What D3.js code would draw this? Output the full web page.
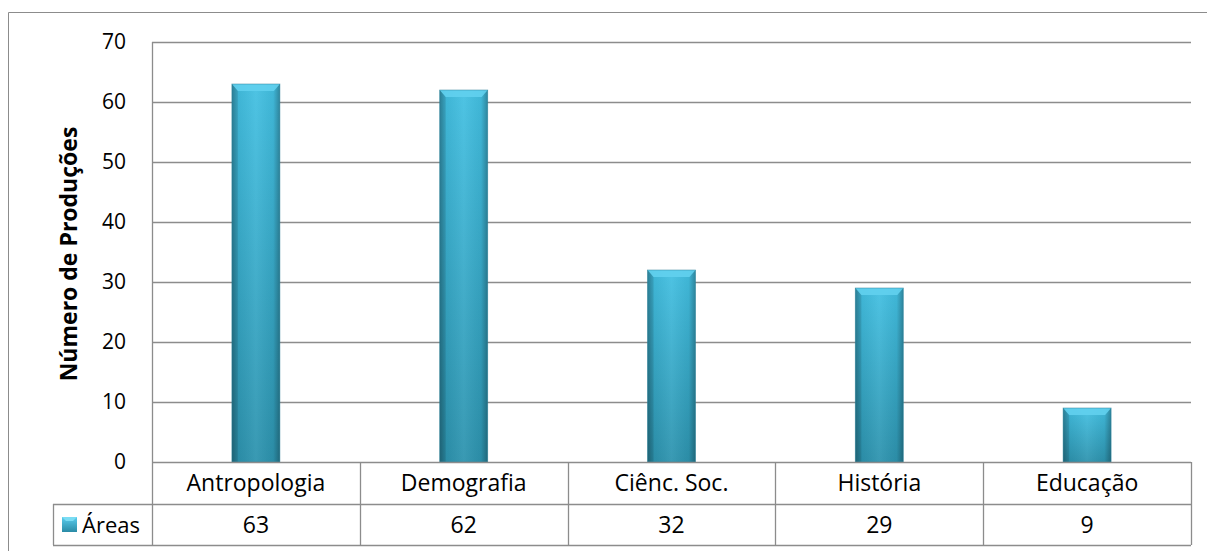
<!DOCTYPE html>
<html><head><meta charset="utf-8">
<script src="https://cdn.jsdelivr.net/npm/d3@7"></script>
<style>body{margin:0;background:#fff}svg{display:block}text{font-family:"Open Sans","Noto Sans",sans-serif;fill:#000}</style>
</head><body><svg id="c" width="1207" height="551"></svg>
<script>
const categories = ["Antropologia","Demografia","Ciênc. Soc.","História","Educação"];
const values = [63,62,32,29,9];
const seriesName = "Áreas";
const yTicks = [0,10,20,30,40,50,60,70];
const yTitle = "Número de Produções";

const svg = d3.select("#c");
const L = 152, R = 1191, T = 42, B = 462;
const row1 = 504, row2 = 545, legL = 53;
const x = d3.scaleBand().domain(categories).range([L, R]).paddingInner(0).paddingOuter(0);
const y = d3.scaleLinear().domain([0,70]).range([B, T]);
const grid = "#8c8c8c";

const defs = svg.append("defs");
const gv = defs.append("linearGradient").attr("id","gv").attr("x1",0).attr("y1",0).attr("x2",0).attr("y2",1);
gv.append("stop").attr("offset","0%").attr("stop-color","#43c0e2");
gv.append("stop").attr("offset","100%").attr("stop-color","#2d93ae");
const gh = defs.append("linearGradient").attr("id","gh").attr("x1",0).attr("y1",0).attr("x2",1).attr("y2",0);
gh.append("stop").attr("offset","0%").attr("stop-color","#000").attr("stop-opacity",0.28);
gh.append("stop").attr("offset","14%").attr("stop-color","#000").attr("stop-opacity",0.05);
gh.append("stop").attr("offset","50%").attr("stop-color","#fff").attr("stop-opacity",0.06);
gh.append("stop").attr("offset","86%").attr("stop-color","#000").attr("stop-opacity",0.05);
gh.append("stop").attr("offset","100%").attr("stop-color","#000").attr("stop-opacity",0.3);

// outer chart border
svg.append("path").attr("d",`M8.5,551 V12.5 H1207`).attr("fill","none").attr("stroke","#8c8c8c").attr("stroke-width",1);

// gridlines
svg.append("g").selectAll("line").data(yTicks.filter(d=>d>0)).join("line")
  .attr("x1",L).attr("x2",R).attr("y1",d=>Math.round(y(d))+0.5).attr("y2",d=>Math.round(y(d))+0.5)
  .attr("stroke",grid).attr("stroke-width",1.3);

// y axis tick labels
const yAxis = d3.axisLeft(y).tickValues(yTicks).tickSize(0).tickPadding(26);
const ga = svg.append("g").attr("transform",`translate(${L},0)`).call(yAxis);
ga.select(".domain").remove();
ga.selectAll("text").attr("font-size",21).attr("font-family","'Open Sans',sans-serif").attr("fill","#000");

// y title
svg.append("text").attr("transform","translate(77,254) rotate(-90)").attr("text-anchor","middle")
  .attr("font-size",23).attr("font-weight","bold").text(yTitle);

// bars
const bw = 48;
const bars = svg.append("g").selectAll("g").data(categories.map((c,i)=>({c,v:values[i]}))).join("g")
  .attr("transform",d=>`translate(${x(d.c)+x.bandwidth()/2-bw/2},${y(d.v)})`);
bars.append("rect").attr("width",bw).attr("height",d=>B-y(d.v)).attr("fill","url(#gv)");
bars.append("rect").attr("width",bw).attr("height",d=>B-y(d.v)).attr("fill","url(#gh)");
bars.append("path").attr("d",`M0,0 H${bw} L${bw-6},7 H6 Z`).attr("fill","#62d0ee").attr("opacity",0.9);
bars.append("path").attr("d",d=>`M0,0 L6,7 V${B-y(d.v)} H0 Z`).attr("fill","#000").attr("opacity",0.08);
bars.append("rect").attr("width",bw).attr("height",d=>B-y(d.v)).attr("fill","none").attr("stroke","#2a7f96").attr("stroke-width",0.8).attr("opacity",0.6);

// data table
const tb = svg.append("g").attr("stroke",grid).attr("stroke-width",1.3).attr("fill","none");
tb.append("line").attr("x1",L).attr("x2",R).attr("y1",B+0.5).attr("y2",B+0.5);
tb.append("line").attr("x1",legL).attr("x2",R).attr("y1",row1+0.5).attr("y2",row1+0.5);
tb.append("line").attr("x1",legL).attr("x2",R).attr("y1",row2+0.5).attr("y2",row2+0.5);
tb.append("line").attr("x1",legL+0.5).attr("x2",legL+0.5).attr("y1",row1).attr("y2",row2);
tb.append("line").attr("x1",L+0.5).attr("x2",L+0.5).attr("y1",T).attr("y2",row2);
tb.selectAll(".v").data(categories).join("line").attr("class","v")
  .attr("x1",d=>Math.round(x(d)+x.bandwidth())+0.5).attr("x2",d=>Math.round(x(d)+x.bandwidth())+0.5)
  .attr("y1",B).attr("y2",row2);

svg.append("g").selectAll("text").data(categories).join("text")
  .attr("x",d=>x(d)+x.bandwidth()/2).attr("y",(B+row1)/2+8).attr("text-anchor","middle").attr("font-size",23).text(d=>d);
svg.append("g").selectAll("text").data(values).join("text")
  .attr("x",(d,i)=>x(categories[i])+x.bandwidth()/2).attr("y",(row1+row2)/2+8).attr("text-anchor","middle").attr("font-size",23).text(d=>d);

// legend key
const lg = defs.append("linearGradient").attr("id","lg").attr("x1",0).attr("y1",0).attr("x2",0).attr("y2",1);
lg.append("stop").attr("offset","0%").attr("stop-color","#5acdee");
lg.append("stop").attr("offset","100%").attr("stop-color","#2a8ba6");
svg.append("rect").attr("x",62).attr("y",517).attr("width",15).attr("height",15).attr("fill","url(#lg)");
svg.append("path").attr("d","M62,517 H77 L73,521 H66 Z").attr("fill","#7adcf3");
svg.append("text").attr("x",82).attr("y",(row1+row2)/2+8).attr("font-size",22).text(seriesName);
</script></body></html>
